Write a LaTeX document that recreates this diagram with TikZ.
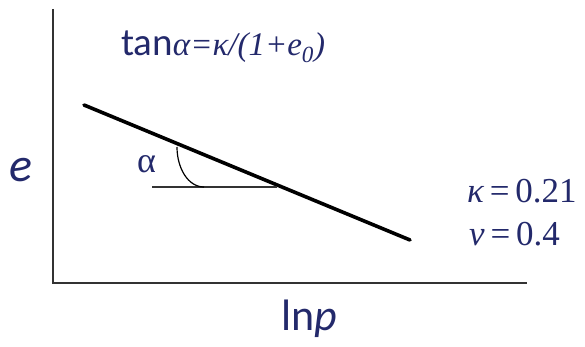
\documentclass[tikz,border=0pt]{standalone}
\usepackage{fontspec}
\usepackage{xcolor}
\setmainfont{Carlito}
\newfontfamily\tmsfont{Liberation Serif}
\definecolor{inkblue}{HTML}{23296B}
\definecolor{axisgray}{HTML}{333333}

\begin{document}
\begin{tikzpicture}[x=1pt, y=-1pt,
  axisline/.style={axisgray, line width=1.3pt},
  slopeline/.style={black, line width=3.6pt, line cap=round},
  lbl/.style={inkblue, inner sep=0pt}]
  \useasboundingbox (0,0) rectangle (585,347);

  % Axes
  \coordinate (top) at (53,9);
  \coordinate (orig) at (53,283);
  \coordinate (right) at (527,283);
  \draw[axisline] (top) -- (orig) -- (right);

  % Droite de pente
  \coordinate (s0) at (84,105);
  \coordinate (s1) at (410,240);
  \draw[slopeline] (s0) -- (s1);

  % Angle
  \coordinate (h0) at (152,187);
  \coordinate (h1) at (277,187);
  \draw[axisgray, line width=1.8pt] (h0) -- (h1);
  \coordinate (a0) at (177,147);
  \coordinate (a1) at (204,187);
  \draw[black, line width=1.2pt] (a0) .. controls (177,168) and (188,187) .. (a1);

  % Textes
  \node[lbl, anchor=base west] (formula) at (121,56)
    {\fontsize{39}{41}\selectfont tan\fontsize{33}{35}\selectfont\tmsfont\itshape α=κ/(1+e\textsubscript{0})};
  \node[lbl, anchor=base] (ylabel) at (21,182)
    {\fontsize{48}{50}\selectfont\itshape e};
  \node[lbl, anchor=base west] (xlabel) at (281,330)
    {\fontsize{44}{46}\selectfont ln\itshape p};
  \node[lbl, anchor=base west] (alpha) at (137,173)
    {\fontsize{36}{38}\selectfont\tmsfont α};
  \node[lbl, anchor=base west] (kappa) at (467,203)
    {\tmsfont\fontsize{35}{37}\selectfont{\itshape κ}\,=\,0.21};
  \node[lbl, anchor=base west] (nu) at (469,245)
    {\tmsfont\fontsize{35}{37}\selectfont{\itshape ν}\,=\,0.4};
\end{tikzpicture}
\end{document}
